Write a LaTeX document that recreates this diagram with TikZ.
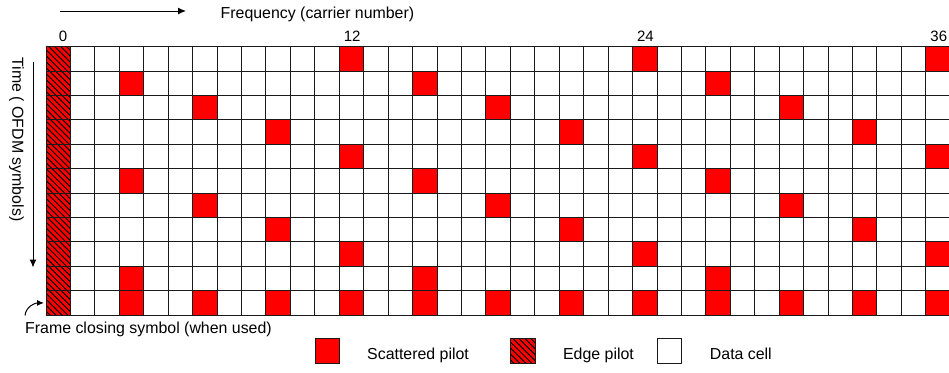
\documentclass[tikz,border=0pt]{standalone}
\usepackage{fontspec}
\setmainfont{Liberation Sans}
\usepackage{xcolor}
\usetikzlibrary{arrows.meta,calc,positioning,patterns.meta}
\definecolor{pilotRed}{HTML}{FF0000}
\definecolor{gridLine}{HTML}{1A1A1A}
\tikzset{
  font=\fontsize{15.9}{18}\selectfont,
  arrow/.style={-{Latex[length=8pt,width=7pt]}, draw=black, line width=1pt},
  cell/.style={rectangle, draw=gridLine, line width=1pt, minimum width=24.44pt, minimum height=24.4pt, inner sep=0pt, outer sep=0pt},
  dataCell/.style={cell, fill=white},
  pilotCell/.style={cell, fill=pilotRed},
  edgeCell/.style={cell, preaction={fill=pilotRed}, pattern={Lines[angle=-45,distance=4.2pt,line width=1pt]}, pattern color=black},
  carrierLabel/.style={font=\fontsize{15}{18}\selectfont, inner sep=0pt, anchor=south east},
  axisLabel/.style={inner sep=0pt},
  legendText/.style={inner sep=0pt, anchor=base west}
}

\begin{document}
\begin{tikzpicture}[x=1pt,y=-1pt]
\useasboundingbox (0,0) rectangle (949,372);

% --------------------------------------------------------------------------
% Cell grid: carriers 0..36, OFDM symbols 0..10
% --------------------------------------------------------------------------
\foreach \r in {0,...,10} {
  \foreach \k in {0,...,36} {
    \pgfmathtruncatemacro{\isPilot}{((\r==10 && mod(\k,3)==0) || (\r<10 && mod(\k,12)==3*mod(\r,4))) ? 1 : 0}
    \ifnum\k=0 \def\cellKind{edgeCell}\else\ifnum\isPilot=1 \def\cellKind{pilotCell}\else\def\cellKind{dataCell}\fi\fi
    \node[\cellKind] (cell\r-\k) at ({58.22+24.44*\k},{58.9+24.4*\r}) {};
  }
}
\foreach \k in {0,12,24,36}
  \node[carrierLabel] (carrier\k) at ([xshift=-3pt,yshift=5pt]cell0-\k.north east) {\k};

% --------------------------------------------------------------------------
% Axes
% --------------------------------------------------------------------------
\coordinate (freqTail) at (60,11);
\coordinate (freqHead) at (186,11);
\draw[arrow] (freqTail) -- (freqHead);
\node[axisLabel, anchor=base west] (freqLabel) at (220.5,18) {Frequency (carrier number)};

\node[axisLabel, rotate=-90] (timeLabel) at (16.5,139.5) {Time ( OFDM symbols)};
\coordinate (timeTail) at (33,62);
\coordinate (timeHead) at (33,267.5);
\draw[arrow] (timeTail) -- (timeHead);

\node[axisLabel, anchor=base west] (closeLabel) at (25,333.3) {Frame closing symbol (when used)};
\coordinate (closeTail) at (25,315.5);
\draw[arrow, -{Latex[length=7pt,width=6pt]}] (closeTail) .. controls +(1,-9) and +(-9,0) .. ([xshift=-2pt]cell10-0.west);

% --------------------------------------------------------------------------
% Legend
% --------------------------------------------------------------------------
\node[pilotCell] (legPilot) at (327.3,351) {};
\node[legendText] (legPilotText) at ($(legPilot.east)+(27.5,8)$) {Scattered pilot};
\node[edgeCell] (legEdge) at (523.2,351) {};
\node[legendText] (legEdgeText) at ($(legEdge.east)+(27.5,8)$) {Edge pilot};
\node[dataCell] (legData) at (669.5,351) {};
\node[legendText] (legDataText) at ($(legData.east)+(28,8)$) {Data cell};

\end{tikzpicture}
\end{document}
